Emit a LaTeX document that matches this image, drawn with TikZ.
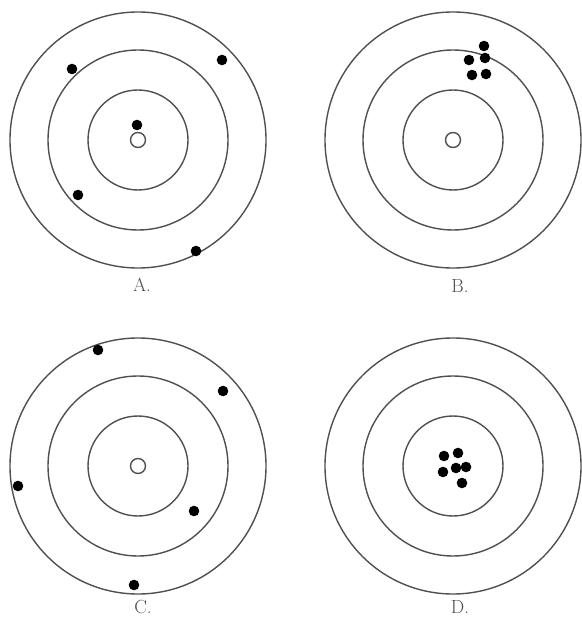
\documentclass[tikz,border=0pt]{standalone}
\usepackage{tikz}
\usetikzlibrary{positioning}
\definecolor{cRing}{RGB}{80,80,80}
\tikzset{
	ring/.style  ={draw=cRing, line width=1.4pt},
	bull/.style  ={draw=cRing, line width=1.4pt, fill=white},
	shot/.style  ={fill=black},
	tlabel/.style={font=\fontsize{19}{22}\selectfont, text=black!70},
}
\begin{document}
\begin{tikzpicture}[x=1pt, y=-1pt]
	\useasboundingbox (0,0) rectangle (581,620);
	% four targets
	\foreach \nm/\cx/\cy in {A/138/140, B/453/140, C/138/466, D/453/466} {
		\coordinate (c\nm) at (\cx,\cy);
		\foreach \r in {128, 90, 50}
			\draw[ring] (c\nm) circle[radius=\r];
	}
	% bull's eyes (hidden under the shots on D)
	\foreach \nm in {A, B, C}
		\draw[bull] (c\nm) circle[radius=7.5];
	% shots
	\foreach \px/\py in {72/69, 222/60, 137/125, 78/195, 196/251}
		\fill[shot] (\px,\py) circle[radius=5.3];
	\foreach \px/\py in {484/46, 485/58, 469/60, 472/75, 486/74}
		\fill[shot] (\px,\py) circle[radius=5.3];
	\foreach \px/\py in {98/350, 223/391, 18/486, 194/511, 134/585}
		\fill[shot] (\px,\py) circle[radius=5.3];
	\foreach \px/\py in {444/456, 458/453, 443/472, 456/468, 466/467, 462/483}
		\fill[shot] (\px,\py) circle[radius=5.3];
	% labels
	\node[tlabel] (labA) at (142,285) {A.};
	\node[tlabel] (labB) at (460,286) {B.};
	\node[tlabel] (labC) at (143,607) {C.};
	\node[tlabel] (labD) at (460,607) {D.};
\end{tikzpicture}
\end{document}
